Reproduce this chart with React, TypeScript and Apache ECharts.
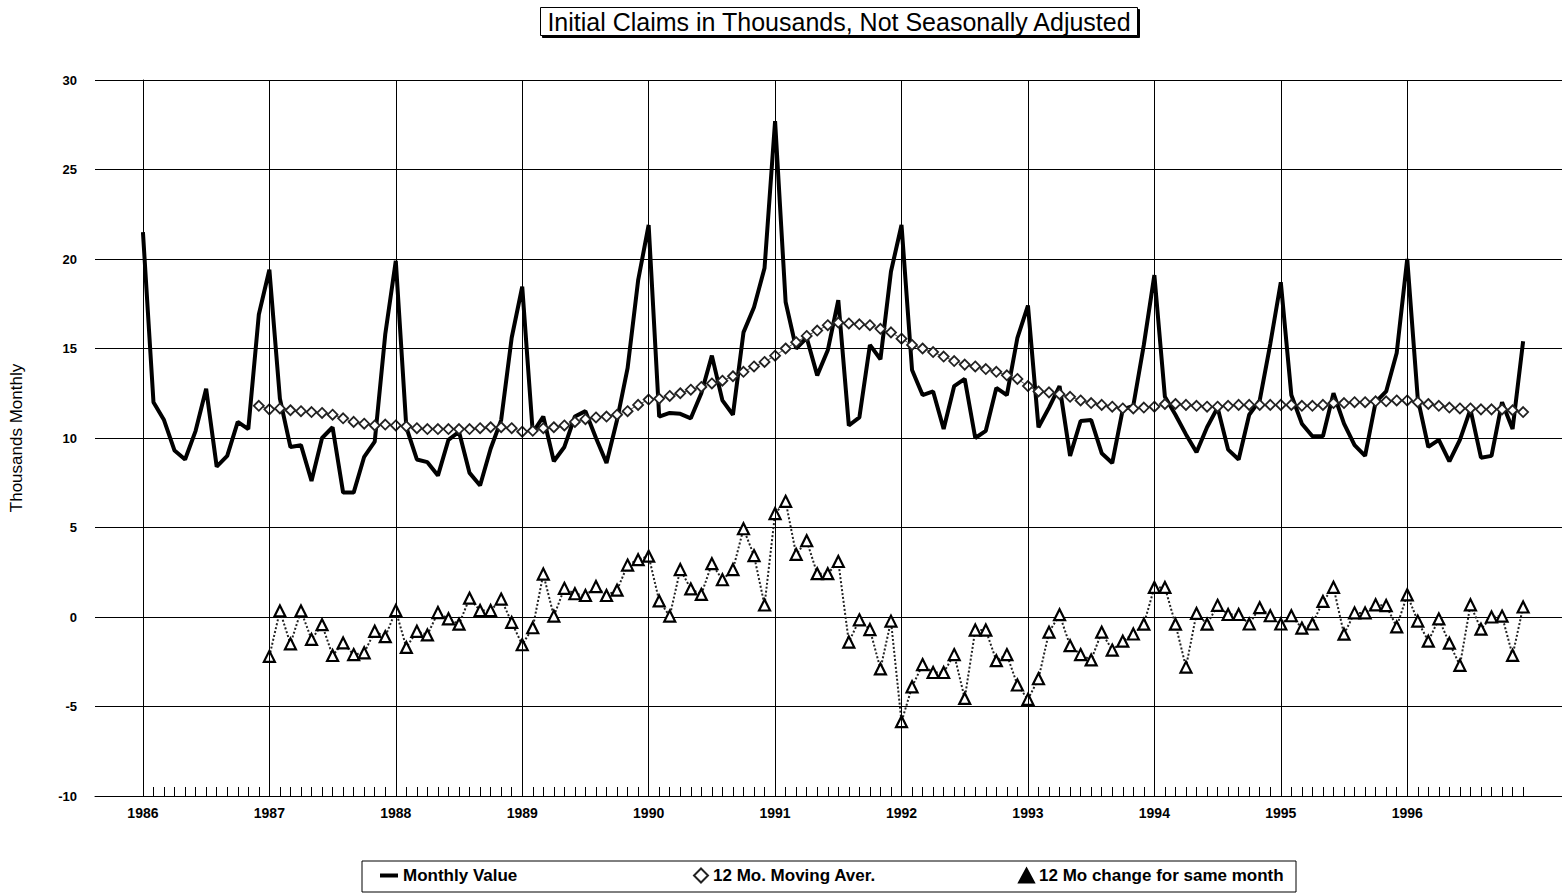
import React, { useEffect, useRef } from "react";
import * as echarts from "echarts";

// Month index 0 = Jan 1986 ... 131 = Dec 1996
const years = [1986, 1987, 1988, 1989, 1990, 1991, 1992, 1993, 1994, 1995, 1996];

// Monthly initial claims (thousands), Jan 1986 - Dec 1996
const monthlyValues = [
  21.5, 12.0, 11.0, 9.3, 8.8, 10.4, 12.75, 8.4, 9.0, 10.9, 10.5, 16.9,
  19.4, 12.2, 9.5, 9.6, 7.6, 10.0, 10.6, 6.95, 6.95, 8.95, 9.8, 15.8,
  19.9, 10.6, 8.8, 8.65, 7.9, 9.9, 10.35, 8.05, 7.35, 9.4, 11.0, 15.6,
  18.45, 10.3, 11.2, 8.7, 9.5, 11.2, 11.5, 10.0, 8.6, 11.0, 13.9, 18.8,
  21.9, 11.2, 11.4, 11.35, 11.1, 12.5, 14.6, 12.1, 11.3, 15.9, 17.3, 19.5,
  27.7, 17.6, 15.0, 15.6, 13.5, 14.9, 17.7, 10.7, 11.15, 15.2, 14.4, 19.3,
  21.9, 13.8, 12.4, 12.6, 10.5, 12.9, 13.3, 10.0, 10.4, 12.8, 12.4, 15.6,
  17.4, 10.6, 11.7, 12.9, 9.0, 10.95, 11.0, 9.15, 8.6, 11.6, 11.8, 15.2,
  19.1, 12.3, 11.3, 10.2, 9.2, 10.6, 11.7, 9.35, 8.8, 11.3, 12.1, 15.25,
  18.7, 12.4, 10.8, 10.1, 10.1, 12.5, 10.8, 9.6, 9.0, 12.0, 12.6, 14.75,
  20.0, 12.2, 9.5, 9.9, 8.7, 9.9, 11.6, 8.9, 9.0, 12.0, 10.5, 15.4,
];

// 12 month moving average, Dec 1986 - Dec 1996
const movingAverage = [
  11.8,
  11.6, 11.65, 11.55, 11.5, 11.45, 11.4, 11.3, 11.1, 10.9, 10.8, 10.7, 10.75,
  10.7, 10.65, 10.55, 10.5, 10.5, 10.5, 10.5, 10.5, 10.55, 10.6, 10.6, 10.55,
  10.35, 10.4, 10.55, 10.6, 10.7, 10.9, 11.05, 11.15, 11.2, 11.3, 11.5, 11.85,
  12.15, 12.2, 12.35, 12.5, 12.7, 12.85, 13.05, 13.2, 13.45, 13.7, 14.0, 14.25,
  14.6, 15.0, 15.35, 15.7, 16.0, 16.3, 16.45, 16.4, 16.35, 16.3, 16.1, 15.9,
  15.55, 15.2, 15.0, 14.8, 14.55, 14.3, 14.1, 14.0, 13.85, 13.7, 13.5, 13.3,
  12.9, 12.6, 12.55, 12.45, 12.3, 12.1, 11.95, 11.85, 11.75, 11.65, 11.65, 11.7,
  11.75, 11.9, 11.9, 11.85, 11.8, 11.75, 11.75, 11.8, 11.85, 11.85, 11.85, 11.85,
  11.85, 11.85, 11.8, 11.8, 11.85, 11.95, 11.95, 12.0, 12.0, 12.05, 12.05, 12.1,
  12.1, 12.0, 11.9, 11.8, 11.7, 11.65, 11.65, 11.6, 11.6, 11.6, 11.55, 11.45,
];

// 12 month change for same month, Jan 1987 - Dec 1996
const change12 = [
  -2.2, 0.34, -1.5, 0.34, -1.25, -0.43, -2.15, -1.45, -2.1, -2.0, -0.8, -1.1,
  0.36, -1.7, -0.8, -1.0, 0.25, -0.1, -0.4, 1.05, 0.36, 0.36, 1.0, -0.3,
  -1.55, -0.6, 2.4, 0.05, 1.6, 1.3, 1.2, 1.7, 1.2, 1.5, 2.9, 3.2,
  3.4, 0.9, 0.05, 2.65, 1.57, 1.26, 2.98, 2.08, 2.65, 4.93, 3.43, 0.67,
  5.78, 6.46, 3.5, 4.26, 2.42, 2.42, 3.1, -1.4, -0.16, -0.7, -2.9, -0.23,
  -5.85, -3.9, -2.66, -3.1, -3.1, -2.1, -4.55, -0.73, -0.73, -2.44, -2.1, -3.8,
  -4.6, -3.45, -0.85, 0.13, -1.6, -2.1, -2.4, -0.85, -1.85, -1.35, -0.95, -0.4,
  1.65, 1.65, -0.4, -2.8, 0.2, -0.4, 0.65, 0.14, 0.14, -0.39, 0.52, 0.07,
  -0.39, 0.07, -0.62, -0.39, 0.87, 1.66, -0.96, 0.23, 0.23, 0.68, 0.64, -0.55,
  1.24, -0.23, -1.35, -0.11, -1.46, -2.7, 0.68, -0.68, 0.0, 0.05, -2.14, 0.56,
];

const FONT = "'Liberation Sans', Arial, sans-serif";

export default function App() {
  const ref = useRef<HTMLDivElement>(null);

  useEffect(() => {
    document.body.style.margin = "0";
    if (!ref.current) return;
    const chart = echarts.init(ref.current, undefined, { renderer: "svg" });

    const monthIdx = monthlyValues.map((_, i) => i);
    const yearIdx = years.map((_, i) => i * 12);
    const monthlyData = monthlyValues.map((v, i) => [i, v]);
    const maData = movingAverage.map((v, i) => [i + 11, v]);
    const changeData = change12.map((v, i) => [i + 12, v]);

    const legendText = { fontFamily: FONT, fontSize: 17, fontWeight: "bold", color: "#000" };

    chart.setOption({
      animation: false,
      backgroundColor: "#fff",
      title: {
        text: "Initial Claims in Thousands, Not Seasonally Adjusted",
        left: 833,
        top: 7,
        textAlign: "center",
        padding: [2, 6, 2, 6],
        borderColor: "#000",
        borderWidth: 1,
        shadowColor: "#000",
        shadowOffsetX: 2,
        shadowOffsetY: 2,
        shadowBlur: 0,
        backgroundColor: "#fff",
        textStyle: { fontFamily: FONT, fontSize: 25, fontWeight: "normal", color: "#000" },
      },
      legend: [
        {
          data: [{ name: "Monthly Value", icon: "rect" }],
          left: 380, top: 867, padding: 0, itemWidth: 18, itemHeight: 4,
          textStyle: legendText, selectedMode: false,
          itemStyle: { color: "#000" },
        },
        {
          data: [{ name: "12 Mo. Moving Aver.", icon: "diamond" }],
          left: 693, top: 867, padding: 0, itemWidth: 14, itemHeight: 14,
          textStyle: legendText, selectedMode: false,
        },
        {
          data: [{ name: "12 Mo change for same month", icon: "triangle" }],
          left: 1018, top: 867, padding: 0, itemWidth: 15, itemHeight: 14,
          textStyle: legendText, selectedMode: false,
          itemStyle: { color: "#000", borderColor: "#000" },
        },
      ],
      graphic: [
        {
          type: "rect",
          shape: { x: 362, y: 861, width: 934, height: 31 },
          style: { fill: "none", stroke: "#000", lineWidth: 1 },
          silent: true,
          z: 100,
        },
      ],
      grid: { left: 93, right: 0, top: 80, bottom: 99, containLabel: false },
      xAxis: {
        type: "value",
        min: -4.55,
        max: 134.69,
        axisLine: { show: true, onZero: false, lineStyle: { color: "#000", width: 1 } },
        axisTick: {
          show: true,
          inside: true,
          length: 9,
          customValues: monthIdx,
          lineStyle: { color: "#000", width: 1 },
        },
        axisLabel: {
          customValues: yearIdx,
          formatter: (v: number) => String(1986 + Math.round(v / 12)),
          fontFamily: FONT,
          fontSize: 14,
          fontWeight: "bold",
          color: "#000",
          margin: 10,
        },
        splitLine: { show: false },
      },
      yAxis: {
        type: "value",
        min: -10,
        max: 30,
        interval: 5,
        axisLine: { show: true, lineStyle: { color: "#000", width: 1 } },
        axisTick: { show: false },
        axisLabel: { fontFamily: FONT, fontSize: 13, fontWeight: "bold", color: "#000", margin: 18 },
        splitLine: { show: true, lineStyle: { color: "#000", width: 1 } },
        name: "Thousands Monthly",
        nameLocation: "middle",
        nameGap: 70,
        nameTextStyle: { fontFamily: FONT, fontSize: 17, color: "#000" },
      },
      series: [
        {
          name: "Monthly Value",
          type: "line",
          data: monthlyData,
          showSymbol: false,
          symbol: "none",
          itemStyle: { color: "#000" },
          lineStyle: { color: "#000", width: 4 },
          z: 3,
          markLine: {
            silent: true,
            symbol: ["none", "none"],
            label: { show: false },
            lineStyle: { color: "#000", width: 1, type: "solid" },
            data: yearIdx.map((v) => ({ xAxis: v })),
          },
        },
        {
          name: "12 Mo. Moving Aver.",
          type: "line",
          data: maData,
          symbol: "diamond",
          symbolSize: 10,
          itemStyle: { color: "#fff", borderColor: "#222", borderWidth: 1.8 },
          lineStyle: { color: "#555", width: 1 },
          z: 4,
        },
        {
          name: "12 Mo change for same month",
          type: "line",
          data: changeData,
          symbol: "triangle",
          symbolSize: 11,
          itemStyle: { color: "#fff", borderColor: "#000", borderWidth: 2.2 },
          lineStyle: { color: "#222", width: 2, type: "dotted" },
          z: 4,
        },
      ],
    });

    return () => chart.dispose();
  }, []);

  return <div ref={ref} style={{ width: 1562, height: 895 }} />;
}
